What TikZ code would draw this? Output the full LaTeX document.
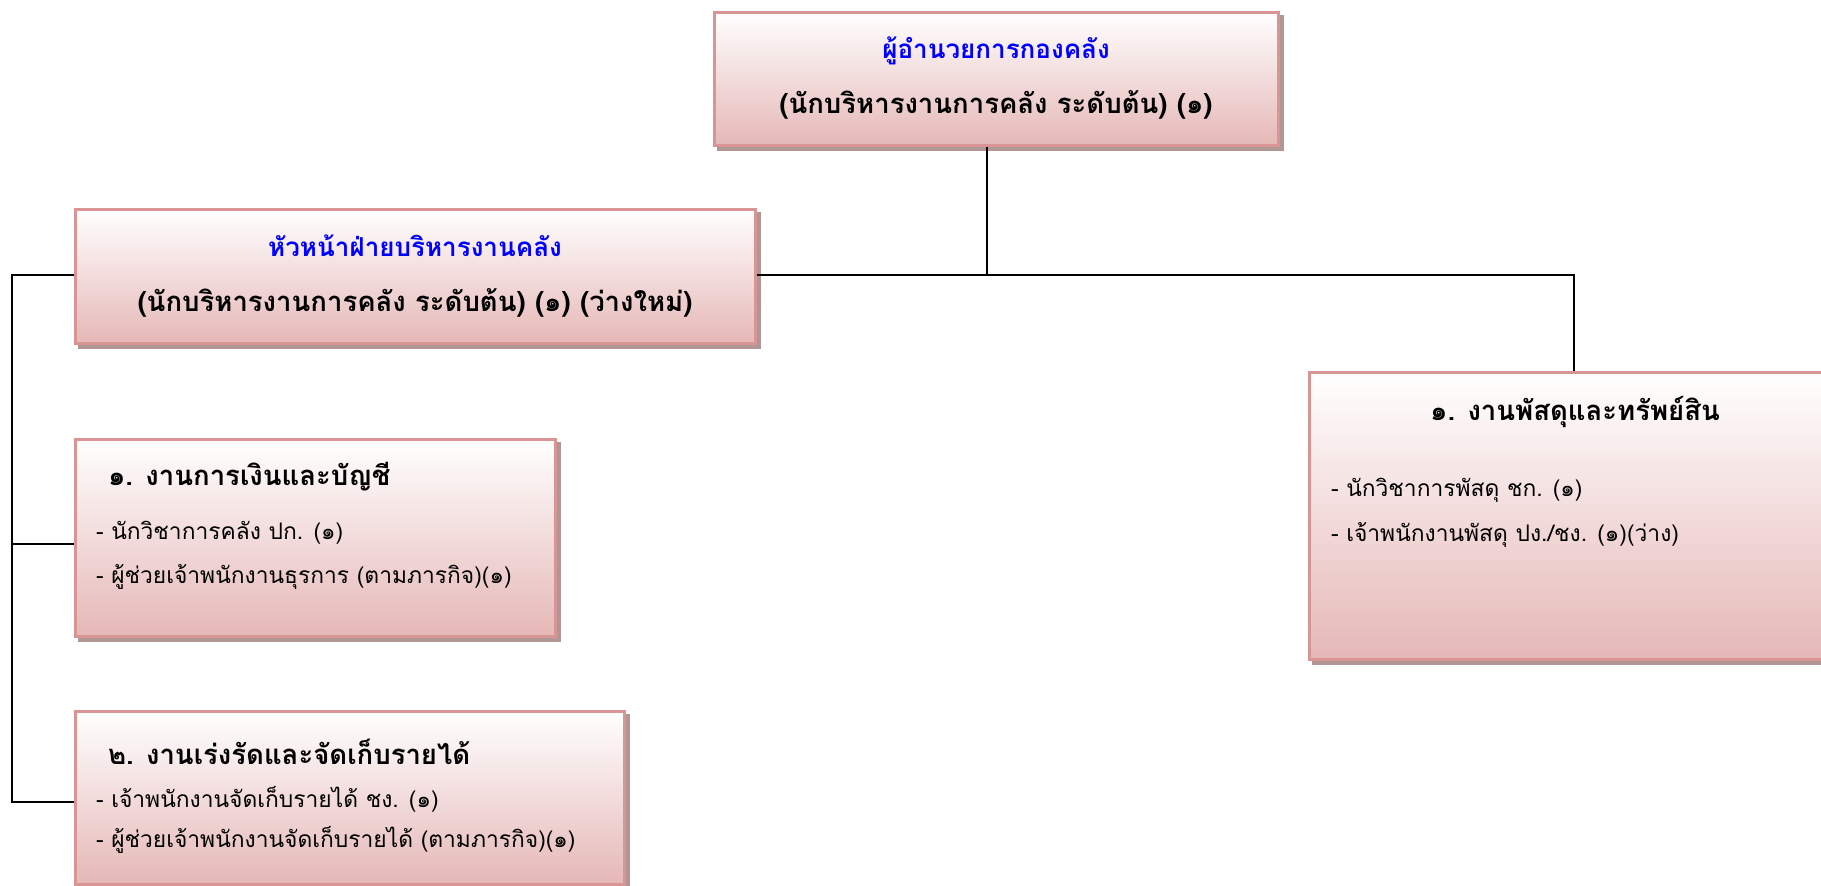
\documentclass[tikz,border=0pt]{standalone}
\usepackage{fontspec}
\newfontfamily\thaifont[Script=Thai]{Loma}
\usetikzlibrary{positioning,shadows}
\definecolor{boxline}{RGB}{217,149,148}
\definecolor{boxfill}{RGB}{229,184,183}
\definecolor{boxshadow}{RGB}{178,150,150}
\definecolor{headblue}{RGB}{0,0,255}

\begin{document}
\begin{tikzpicture}[x=1pt,y=-1pt,line width=2pt,
	pinkbox/.style={rectangle,draw=boxline,line width=3pt,top color=white,bottom color=boxfill,inner sep=0pt,
		copy shadow={shadow xshift=4pt,shadow yshift=-4pt,draw=boxshadow,fill=boxshadow}},
	headtext/.style={align=center,font=\thaifont\bfseries\fontsize{27.5}{55}\selectfont},
	titletext/.style={anchor=west,inner sep=0pt,font=\thaifont\bfseries\fontsize{27.5}{30}\selectfont},
	itemtext/.style={anchor=west,inner sep=0pt,font=\thaifont\fontsize{22.8}{26}\selectfont}]
	
	\clip (0,0) rectangle (1821,886);
	
	% boxes
	\node [pinkbox,headtext,minimum width=564pt,minimum height=133pt] (dir) at (996,78.5)
		{\textcolor{headblue}{\fontsize{26}{55}\selectfont ผู้อำนวยการกองคลัง}\\(นักบริหารงานการคลัง ระดับต้น) (๑)};
	\node [pinkbox,headtext,minimum width=680pt,minimum height=134pt] (head) at (415,276)
		{\textcolor{headblue}{\fontsize{26}{57}\selectfont หัวหน้าฝ่ายบริหารงานคลัง}\\(นักบริหารงานการคลัง ระดับต้น) (๑) (ว่างใหม่)};
	\node [pinkbox,minimum width=480pt,minimum height=197pt] (fin) at (315,537.5) {};
	\node [pinkbox,minimum width=549pt,minimum height=173pt] (rev) at (349.5,797.5) {};
	\node [pinkbox,minimum width=530pt,minimum height=287pt] (sup) at (1574,515.5) {};
	
	% texts in the work boxes
	\node [titletext] (fint) at (107,477) {๑. งานการเงินและบัญชี};
	\node [itemtext] (fin1) at (95,533) {- นักวิชาการคลัง ปก. (๑)};
	\node [itemtext] (fin2) at (95,577) {- ผู้ช่วยเจ้าพนักงานธุรการ (ตามภารกิจ)(๑)};
	\node [titletext] (revt) at (107,752) {๒. งานเร่งรัดและจัดเก็บรายได้};
	\node [itemtext] (rev1) at (95,799) {- เจ้าพนักงานจัดเก็บรายได้ ชง. (๑)};
	\node [itemtext] (rev2) at (95,840) {- ผู้ช่วยเจ้าพนักงานจัดเก็บรายได้ (ตามภารกิจ)(๑)};
	\node [titletext,anchor=center] (supt) at (1575,412) {๑. งานพัสดุและทรัพย์สิน};
	\node [itemtext] (sup1) at (1330,490) {- นักวิชาการพัสดุ ชก. (๑)};
	\node [itemtext] (sup2) at (1330,535) {- เจ้าพนักงานพัสดุ ปง./ชง. (๑)(ว่าง)};
	
	\coordinate (bus) at (987,275);
	\coordinate (spine) at (12,275);
	\coordinate (finin) at ([yshift=-6pt]fin.west);
	\coordinate (revin) at ([yshift=-4pt]rev.west);
	
	% connectors
	\draw (dir.south -| bus) -- (bus);
	\draw (head.east |- bus) -- (bus -| sup.north) -- (sup.north);
	\draw (head.west |- spine) -- (spine) -- (spine |- revin) -- (revin);
	\draw (spine |- finin) -- (finin);
\end{tikzpicture}
\end{document}
